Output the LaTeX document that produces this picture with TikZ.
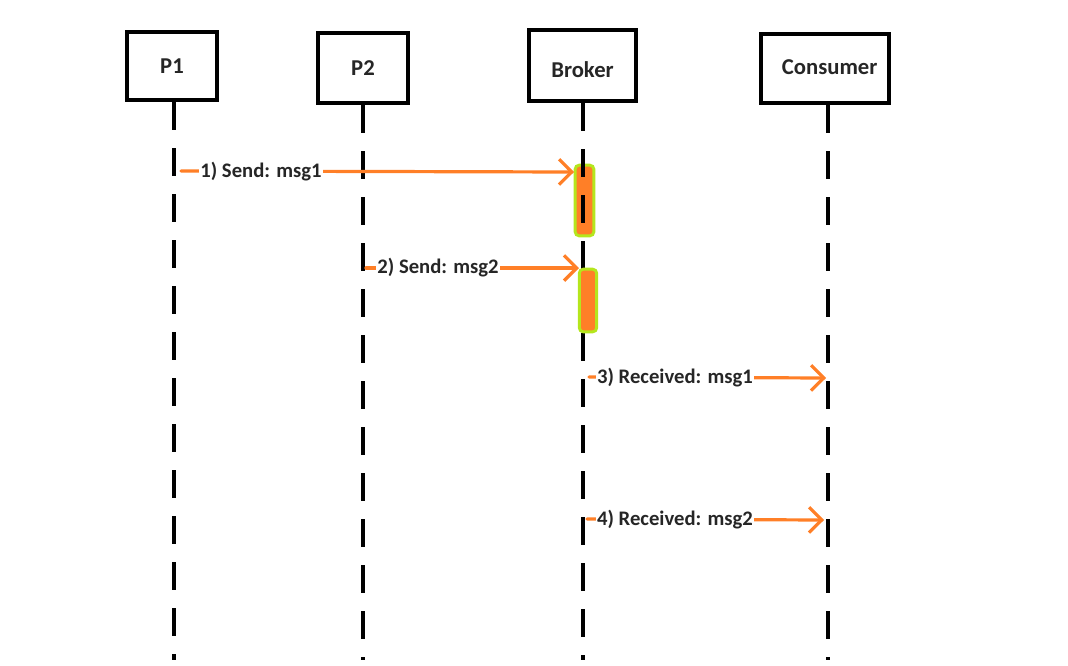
\documentclass[tikz,border=0pt]{standalone}
\usepackage{fontspec}
\setmainfont{Carlito}
\usetikzlibrary{arrows.meta}
\definecolor{msgorange}{HTML}{FF7F27}
\definecolor{actgreen}{HTML}{B5E61D}
\definecolor{txt}{HTML}{262626}
\begin{document}
\begin{tikzpicture}[x=0.75pt,y=-0.75pt,
  actor/.style={draw=black,line width=3pt,inner sep=0pt},
  actortext/.style={text=txt,inner sep=0pt,font=\bfseries\fontsize{17}{19}\selectfont},
  lifeline/.style={line width=3pt,dash pattern=on 21pt off 13.5pt},
  msg/.style={draw=msgorange,line width=2.4pt,line cap=round,
    -{Straight Barb[length=9.5pt,width=19pt,line width=2.4pt]}},
  lbl/.style={fill=white,inner sep=1pt,text=txt,
    font=\bfseries\fontsize{15.5}{17}\selectfont},
  act/.style={draw=actgreen,fill=msgorange,line width=2.2pt,rounded corners=3pt}]
\useasboundingbox (0,0) rectangle (1068,665);
% actors
\node[actor,minimum width=67.5pt,minimum height=51pt,
  label={[actortext]center:P1}] (P1) at (172,66) {};
\node[actor,minimum width=67.5pt,minimum height=52.5pt,
  label={[actortext]center:P2}] (P2) at (363,68) {};
\node[actor,minimum width=80pt,minimum height=53pt,
  label={[actortext,yshift=-3.2pt]center:Broker}] (B) at (582.5,65.5) {};
\node[actor,minimum width=96pt,minimum height=52pt,
  label={[actortext,xshift=3.5pt,yshift=1pt]center:Consumer}] (C) at (825,68.5) {};
% lifeline ends
\coordinate (P1e) at (174,660);
\coordinate (P2e) at (363,660);
\coordinate (Be) at (583,660);
\coordinate (Ce) at (828,660);
\coordinate (P1t) at (174,102);
\coordinate (P2t) at (363,105);
\coordinate (Bt) at (583,103);
\coordinate (Ct) at (828,105);
\draw[lifeline] (P1t) -- (P1e);
\draw[lifeline] (P2t) -- (P2e);
\draw[lifeline] (Ct) -- (Ce);
\node[act,minimum width=14pt,minimum height=53pt,inner sep=0pt] (A1) at (584.5,200.5) {};
\draw[lifeline] (Bt) -- (Be);
\node[act,minimum width=13pt,minimum height=47pt,inner sep=0pt] (A2) at (588,300.5) {};
% messages
\coordinate (m1s) at (181,171);
\coordinate (m1e) at (574,172);
\coordinate (m2s) at (366,268);
\coordinate (m2e) at (579,268);
\coordinate (m3s) at (589,377);
\coordinate (m3e) at (826,378);
\coordinate (m4s) at (587,519);
\coordinate (m4e) at (824,520);
\draw[msg] (m1s) -- (m1e);
\draw[msg] (m2s) -- (m2e);
\draw[msg] (m3s) -- (m3e);
\draw[msg] (m4s) -- (m4e);
\node[lbl] (L1) at (261,172) {1) Send: msg1};
\node[lbl] (L2) at (438,268) {2) Send: msg2};
\node[lbl] (L3) at (675,378) {3) Received: msg1};
\node[lbl] (L4) at (675,520) {4) Received: msg2};
\end{tikzpicture}
\end{document}
